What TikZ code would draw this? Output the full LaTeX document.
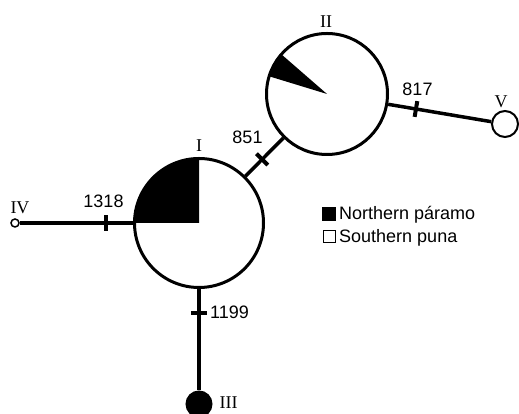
\documentclass[tikz,border=0pt]{standalone}
\usepackage{fontspec}
\setmainfont{Liberation Serif}
\setsansfont{Liberation Sans}
\begin{document}
\begin{tikzpicture}[x=1pt,y=1pt,
  hap/.style={circle,draw=black,line width=2pt,fill=white,inner sep=0pt},
  conn/.style={line width=3.5pt},
  tickmark/.style={sloped,fill=black,minimum width=4pt,minimum height=16pt,inner sep=0pt,draw=none},
  numlab/.style={font=\sffamily\fontsize{18}{18}\selectfont,inner sep=0pt},
  romlab/.style={font=\rmfamily\fontsize{18}{18}\selectfont,inner sep=0pt},
  legtext/.style={font=\sffamily\fontsize{18}{18}\selectfont,anchor=base west,inner sep=0pt},
  legbox/.style={draw=black,line width=1.5pt,minimum size=12pt,inner sep=0pt}
]
\useasboundingbox (0,0) rectangle (519,414);
% haplotype circles
\node[hap,minimum size=130pt] (I) at (199,191) {};
\node[hap,minimum size=122pt] (II) at (327,320) {};
\node[hap,minimum size=26pt] (V) at (505,290) {};
\node[hap,minimum size=8pt,line width=1.5pt] (IV) at (15,191) {};
\node[hap,minimum size=25pt,fill=black] (III) at (199,10) {};
% pie segments
\fill (I.center) -- ++(90:65) arc[start angle=90,end angle=180,radius=65] -- cycle;
\draw[line width=2pt] (I.center) circle[radius=64];
\fill (II.center) -- ++(139:60) arc[start angle=139,end angle=163,radius=60] -- cycle;
\draw[line width=2pt] (II.center) circle[radius=60];
% connectors
\draw[conn] (IV) -- node[tickmark,pos=0.765] (t1318) {} (I);
\draw[conn] (I) -- node[tickmark,pos=0.44] (t851) {} (II);
\draw[conn] (II) -- node[tickmark,pos=0.27] (t817) {} (V);
\draw[conn] (I) -- node[tickmark,pos=0.24] (t1199) {} (III);
% labels
\node[romlab] (lI) at (199,268) {I};
\node[romlab] (lII) at (326,392) {II};
\node[romlab] (lV) at (501,312) {V};
\node[romlab] (lIV) at (20,206) {IV};
\node[romlab] (lIII) at (228.5,11.5) {III};
\node[numlab] (n1318) at (103.5,212.5) {1318};
\node[numlab] (n851) at (247.5,276.5) {851};
\node[numlab] (n817) at (417.5,325) {817};
\node[numlab,anchor=west] (n1199) at (210,101.5) {1199};
% legend
\node[legbox,fill=black] (kN) at (329,200) {};
\node[legbox,fill=white] (kS) at (329.5,177.5) {};
\node[legtext] (tN) at (339,194) {Northern páramo};
\node[legtext] (tS) at (339,171) {Southern puna};
\end{tikzpicture}
\end{document}
